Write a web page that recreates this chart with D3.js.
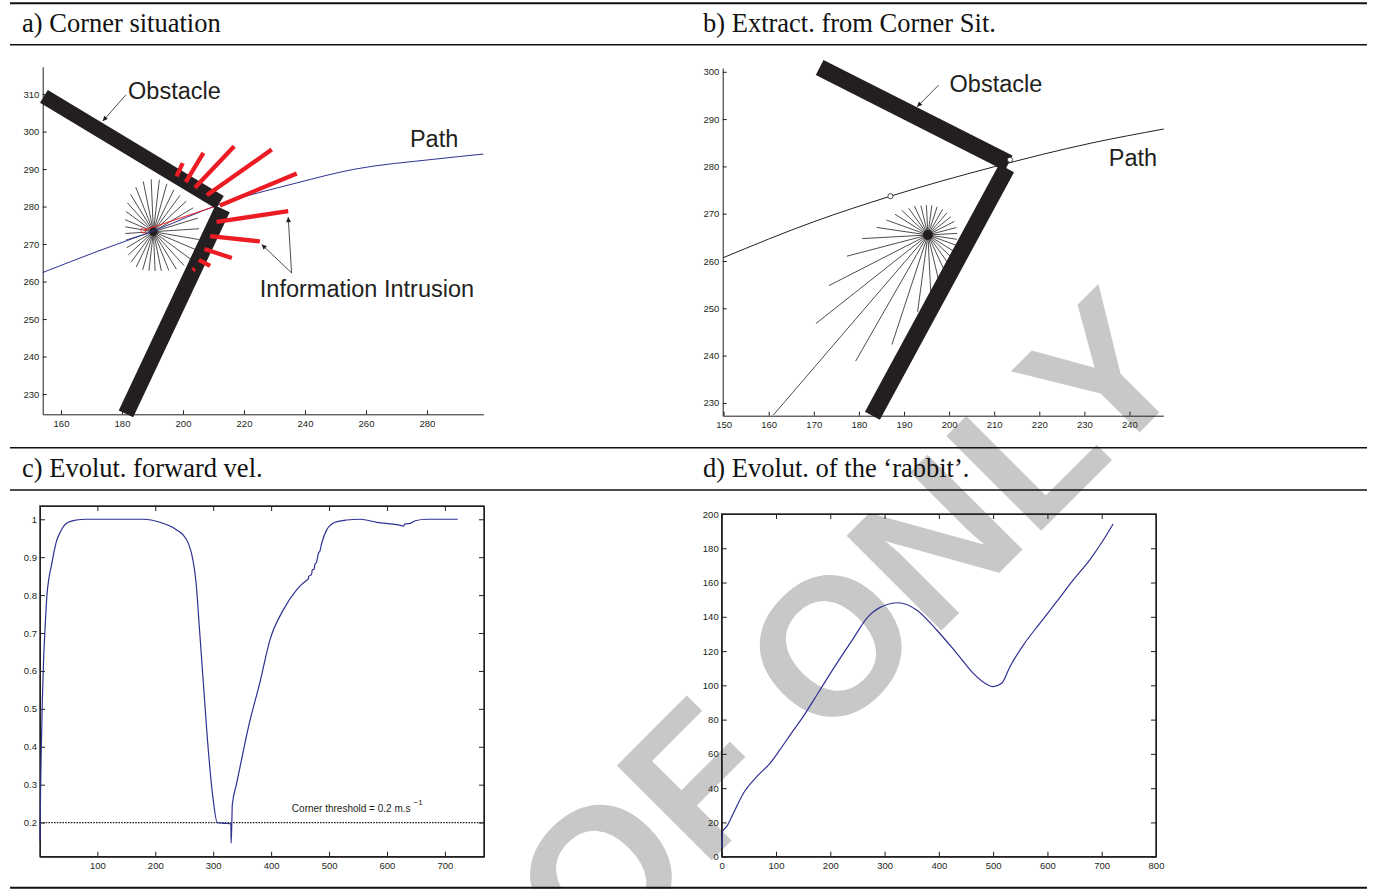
<!DOCTYPE html>
<html>
<head>
<meta charset="utf-8">
<script src="https://cdn.jsdelivr.net/npm/d3@7"></script>
<style>
  body { margin: 0; background: #fff; }
  svg { display: block; background: #fff; }
  .tick text { font-family: "Liberation Sans", Arial, sans-serif; font-size: 9.5px; fill: #231f20; }
  .tick line, .domain { stroke: #231f20; }
  .label { font-family: "Liberation Sans", Arial, sans-serif; fill: #231f20; }
  .head { font-family: "Liberation Serif", "Times New Roman", serif; font-size: 26.5px; fill: #111; }
</style>
</head>
<body>
<svg id="fig" width="1383" height="889"></svg>
<script>
// panel a - corner situation
const aXTicks = [160, 180, 200, 220, 240, 260, 280];
const aYTicks = [230, 240, 250, 260, 270, 280, 290, 300, 310];
const aPath = [[154, 262.4], [172.1, 268.1], [190.3, 273.5], [212.1, 280.6], [237.3, 286.3], [255.8, 289.9], [282.1, 292.6], [298.5, 294.0]];
const aWallUpper = [[154.4, 309.4], [212.1, 281.1]];
const aWallLower = [[212.95, 279.4], [181.3, 224.7]];
const aSensor = [190.3, 273.3];
const aRayLengths = [15, 15, 14.5, 13.5, 13, 13, 13.5, 14, 14, 13.8, 13.2, 12.5, 11.5, 10.5, 9.8, 9.3,
                     9.2, 9.3, 9.8, 10.3, 10.8, 11, 10.8, 10.5, 10.5, 10.8, 11.5, 12.5, 13.5, 14.5, 15, 15];
const aIntrusions = [
  [[197.9, 288.05], [199.9, 291.6]],
  [[200.9, 286.5], [206.7, 294.3]],
  [[203.9, 285.0], [216.8, 296.1]],
  [[207.8, 283.0], [229.1, 295.2]],
  [[212.1, 280.3], [237.3, 288.8]],
  [[211.0, 275.9], [234.5, 278.8]],
  [[208.9, 272.1], [225.2, 270.7]],
  [[207.0, 268.7], [216.0, 266.3]],
  [[205.2, 265.8], [208.9, 264.2]],
  [[203.2, 263.0], [203.9, 263.4]]
];
const aHeading = [[187, 273.65], [211.5, 280.3]];

// panel b - extract from the corner situation
const bXTicks = [150, 160, 170, 180, 190, 200, 210, 220, 230, 240];
const bYTicks = [230, 240, 250, 260, 270, 280, 290, 300];
const bPath = [[149.9, 260.7], [170.0, 268.3], [187.0, 273.7], [209.9, 279.9], [231.4, 284.9], [247.6, 287.9]];
const bWallUpper = [[171.3, 300.9], [213.2, 280.7]];
const bWallLower = [[212.75, 279.6], [183, 227.3]];
const bSensor = [195.3, 265.5];
const bRayLengths = [6.5, 6.5, 6.5, 6.4, 6.3, 6.3, 6.3, 6.3, 6.3, 6.4, 6.8, 7.1, 7.8, 8.5, 9.7, 11.5,
                     14.6, 18.5, 24.4, 31.1, 51.2, 31.1, 24.5, 16.4, 12, 11, 10, 9, 8, 7.2, 6.8, 6.5];
const bMarks = [[187, 273.7], [213.5, 281.4]];

// ray directions of the range sensor (degrees)
const rayAngles = [3, 14, 26, 37, 48, 59, 71, 82, 93, 104, 116, 127, 138, 149, 161, 172,
                   183, 194, 206, 217, 228, 239, 251, 262, 273, 284, 296, 307, 318, 329, 341, 352];

// panel c - forward velocity
const cXTicks = [100, 200, 300, 400, 500, 600, 700];
const cYTicks = [0.2, 0.3, 0.4, 0.5, 0.6, 0.7, 0.8, 0.9, 1];
const cTime = [1, 2, 3, 5, 7, 10, 13, 17, 21, 26, 30, 36, 42, 50, 64, 80, 180, 208, 237, 248, 257, 265, 270.5, 276, 283,
               292, 300, 307, 318, 329, 330.5, 331, 332, 333, 340, 346.5, 361, 381, 398, 421, 444, 462, 464, 465, 468,
               470, 471, 474, 476, 478, 480, 482, 484, 487, 496, 510.5, 530, 554, 582.5, 620, 628.5, 631, 634, 640,
               648.7, 669, 722];
const cVel = [0.15, 0.28, 0.38, 0.52, 0.62, 0.72, 0.8, 0.85, 0.88, 0.92, 0.945, 0.966, 0.982, 0.992, 0.998, 1.0, 1.0, 0.992,
              0.972, 0.959, 0.937, 0.893, 0.832, 0.717, 0.568, 0.383, 0.26, 0.2, 0.198, 0.197, 0.195, 0.146, 0.19, 0.247,
              0.3, 0.348, 0.453, 0.572, 0.682, 0.761, 0.814, 0.84, 0.842, 0.85, 0.852, 0.856, 0.866, 0.868, 0.883, 0.885,
              0.898, 0.912, 0.915, 0.935, 0.972, 0.992, 0.998, 1.0, 0.992, 0.985, 0.982, 0.988, 0.988, 0.989, 0.996, 1.0, 1.0];
const cThreshold = 0.2;

// panel d - evolution of the rabbit
const dXTicks = [0, 100, 200, 300, 400, 500, 600, 700, 800];
const dYTicks = [0, 20, 40, 60, 80, 100, 120, 140, 160, 180, 200];
const dTime = [0, 1, 2, 9, 21.5, 40, 64.5, 89, 107, 126, 150, 181, 212, 242.5, 267, 292, 325, 359, 396, 433, 463.5,
               485, 500, 515.7, 531, 555.6, 586, 617, 647.6, 678, 703, 721];
const dRabbit = [5, 12, 15, 17.5, 25.3, 37, 46.7, 54.5, 62.3, 71, 81.7, 97.3, 112.8, 127.4, 139.1, 145.5, 148.2, 144,
                 132.3, 118.7, 107, 101.2, 99.2, 101.2, 110.9, 123.5, 136.2, 148.8, 161.5, 173.2, 184.8, 194.2];

const INK = '#231f20', RED = '#ed1c24', BLUE = '#2e3192';
const svg = d3.select('#fig');

// watermark sits behind everything
svg.append('text')
   .attr('transform', 'translate(746,826) rotate(-45)')
   .attr('text-anchor', 'middle')
   .style('font-family', '"Liberation Sans", Arial, sans-serif')
   .style('font-weight', 'bold')
   .style('font-size', '195px')
   .style('fill', '#c8c8c8')
   .text('PROOF ONLY');

const defs = svg.append('defs');
defs.append('marker')
    .attr('id', 'arrow')
    .attr('viewBox', '0 0 10 10')
    .attr('refX', 10).attr('refY', 5)
    .attr('markerWidth', 7).attr('markerHeight', 5)
    .attr('markerUnits', 'userSpaceOnUse')
    .attr('orient', 'auto')
    .append('path').attr('d', 'M0,0 L10,5 L0,10 z').attr('fill', INK);

// table rules and headings
const rules = [[3.3, 2], [44.7, 1.5], [447.7, 1.5], [490, 1.5], [887.8, 2]];
rules.forEach(r => {
    svg.append('line').attr('x1', 10).attr('x2', 1367).attr('y1', r[0]).attr('y2', r[0])
       .attr('stroke', '#111').attr('stroke-width', r[1]);
});
svg.append('text').attr('class', 'head').attr('x', 22).attr('y', 32).text('a) Corner situation');
svg.append('text').attr('class', 'head').attr('x', 703).attr('y', 32).text('b) Extract. from Corner Sit.');
svg.append('text').attr('class', 'head').attr('x', 22).attr('y', 477).text('c) Evolut. forward vel.');
svg.append('text').attr('class', 'head').attr('x', 703).attr('y', 477).text('d) Evolut. of the \u2018rabbit\u2019.');

// open axes (left + bottom, ticks inside)
function openAxes(x, y, xt, yt) {
    svg.append('g').attr('transform', `translate(0,${y.range()[0]})`)
       .call(d3.axisBottom(x).tickValues(xt).tickSizeInner(-4).tickSizeOuter(0).tickPadding(5.7));
    svg.append('g').attr('transform', `translate(${x.range()[0]},0)`)
       .call(d3.axisLeft(y).tickValues(yt).tickSizeInner(-4).tickSizeOuter(0).tickPadding(3.4));
}

// boxed axes, matlab style
function boxAxes(x, y, xt, yt) {
    const x0 = x.range()[0], x1 = x.range()[1], y0 = y.range()[0], y1 = y.range()[1];
    svg.append('g').attr('transform', `translate(0,${y0})`)
       .call(d3.axisBottom(x).tickValues(xt).tickSizeInner(-5).tickSizeOuter(0).tickPadding(5.6).tickFormat(d => String(d)));
    svg.append('g').attr('transform', `translate(0,${y1})`)
       .call(d3.axisTop(x).tickValues(xt).tickSizeInner(-5).tickSizeOuter(0).tickFormat(''));
    svg.append('g').attr('transform', `translate(${x0},0)`)
       .call(d3.axisLeft(y).tickValues(yt).tickSizeInner(-5).tickSizeOuter(0).tickPadding(3).tickFormat(d => String(d)));
    svg.append('g').attr('transform', `translate(${x1},0)`)
       .call(d3.axisRight(y).tickValues(yt).tickSizeInner(-5).tickSizeOuter(0).tickFormat(''));
    svg.append('rect').attr('x', x0).attr('y', y1).attr('width', x1 - x0).attr('height', y0 - y1)
       .attr('fill', 'none').attr('stroke', INK).attr('stroke-width', 1.4);
}

function drawRays(x, y, centre, lengths, radius) {
    svg.append('g').selectAll('line')
       .data(rayAngles.map((a, i) => [a * Math.PI / 180, lengths[i]]))
       .join('line')
       .attr('x1', x(centre[0])).attr('y1', y(centre[1]))
       .attr('x2', d => x(centre[0] + d[1] * Math.cos(d[0])))
       .attr('y2', d => y(centre[1] + d[1] * Math.sin(d[0])))
       .attr('stroke', INK).attr('stroke-width', 0.8);
    svg.append('circle').attr('cx', x(centre[0])).attr('cy', y(centre[1])).attr('r', radius).attr('fill', INK);
}

function drawWall(x, y, seg, w) {
    svg.append('line')
       .attr('x1', x(seg[0][0])).attr('y1', y(seg[0][1]))
       .attr('x2', x(seg[1][0])).attr('y2', y(seg[1][1]))
       .attr('stroke', INK).attr('stroke-width', w);
}

function arrow(x, y, from, to) {
    svg.append('line')
       .attr('x1', x(from[0])).attr('y1', y(from[1]))
       .attr('x2', x(to[0])).attr('y2', y(to[1]))
       .attr('stroke', INK).attr('stroke-width', 0.8)
       .attr('marker-end', 'url(#arrow)');
}

function label(x, y, pos, txt) {
    svg.append('text').attr('class', 'label')
       .attr('x', x(pos[0])).attr('y', y(pos[1]))
       .style('font-size', '23.5px').text(txt);
}

// ---------- panel a ----------
const xA = d3.scaleLinear().domain([154, 298.5]).range([42.7, 483.4]);
const yA = d3.scaleLinear().domain([224.6, 317.3]).range([414.3, 66.7]);
openAxes(xA, yA, aXTicks, aYTicks);

drawRays(xA, yA, aSensor, aRayLengths, 4);

svg.append('path').datum(aPath)
   .attr('fill', 'none').attr('stroke', BLUE).attr('stroke-width', 1)
   .attr('d', d3.line().x(d => xA(d[0])).y(d => yA(d[1])).curve(d3.curveMonotoneX));

svg.append('line')
   .attr('x1', xA(aHeading[0][0])).attr('y1', yA(aHeading[0][1]))
   .attr('x2', xA(aHeading[1][0])).attr('y2', yA(aHeading[1][1]))
   .attr('stroke', RED).attr('stroke-width', 1);
svg.append('circle').attr('cx', xA(aHeading[0][0])).attr('cy', yA(aHeading[0][1])).attr('r', 2.5)
   .attr('fill', 'none').attr('stroke', RED).attr('stroke-width', 0.8);

drawWall(xA, yA, aWallUpper, 15);
drawWall(xA, yA, aWallLower, 16);

svg.append('g').selectAll('line').data(aIntrusions).join('line')
   .attr('x1', d => xA(d[0][0])).attr('y1', d => yA(d[0][1]))
   .attr('x2', d => xA(d[1][0])).attr('y2', d => yA(d[1][1]))
   .attr('stroke', RED).attr('stroke-width', 4.3);

label(xA, yA, [182, 308.7], 'Obstacle');
arrow(xA, yA, [181.3, 309.8], [173.7, 302.8]);
label(xA, yA, [274.4, 296], 'Path');
label(xA, yA, [225.2, 256], 'Information Intrusion');
arrow(xA, yA, [235.6, 262.3], [234.5, 277.2]);
arrow(xA, yA, [235.6, 262.3], [225.8, 269.9]);

// ---------- panel b ----------
const xB = d3.scaleLinear().domain([149.8, 247.5]).range([722.7, 1163.3]);
const yB = d3.scaleLinear().domain([227.3, 300.8]).range([415.7, 68]);
openAxes(xB, yB, bXTicks, bYTicks);

drawRays(xB, yB, bSensor, bRayLengths, 5);

svg.append('path').datum(bPath)
   .attr('fill', 'none').attr('stroke', INK).attr('stroke-width', 1)
   .attr('d', d3.line().x(d => xB(d[0])).y(d => yB(d[1])).curve(d3.curveMonotoneX));

drawWall(xB, yB, bWallUpper, 17);
drawWall(xB, yB, bWallLower, 17);

svg.append('g').selectAll('circle').data(bMarks).join('circle')
   .attr('cx', d => xB(d[0])).attr('cy', d => yB(d[1])).attr('r', 2.6)
   .attr('fill', '#fff').attr('stroke', INK).attr('stroke-width', 0.8);

label(xB, yB, [200.1, 295.7], 'Obstacle');
arrow(xB, yB, [197.7, 297.2], [192.9, 292.6]);
label(xB, yB, [235.4, 280.1], 'Path');

// ---------- panel c ----------
const xC = d3.scaleLinear().domain([1, 767.5]).range([40, 484]);
const yC = d3.scaleLinear().domain([0.11, 1.035]).range([856.7, 506]);
boxAxes(xC, yC, cXTicks, cYTicks);

svg.append('line')
   .attr('x1', xC.range()[0]).attr('x2', xC.range()[1])
   .attr('y1', yC(cThreshold)).attr('y2', yC(cThreshold))
   .attr('stroke', INK).attr('stroke-width', 1.4).attr('stroke-dasharray', '1.6,1.2');

svg.append('path').datum(cTime.map((t, i) => [t, cVel[i]]))
   .attr('fill', 'none').attr('stroke', BLUE).attr('stroke-width', 1.2)
   .attr('d', d3.line().x(d => xC(d[0])).y(d => yC(d[1])).curve(d3.curveMonotoneX));

const thr = svg.append('text').attr('class', 'label')
   .attr('x', xC(435.8)).attr('y', yC(0.229)).style('font-size', '10px');
thr.append('tspan').text('Corner threshold = 0.2 m.s');
thr.append('tspan').attr('dx', 3).attr('dy', -7).style('font-size', '8px').text('\u22121');

// ---------- panel d ----------
const xD = d3.scaleLinear().domain([0, 800]).range([721.7, 1156]);
const yD = d3.scaleLinear().domain([0, 200]).range([856.7, 514]);
boxAxes(xD, yD, dXTicks, dYTicks);

svg.append('path').datum(dTime.map((t, i) => [t, dRabbit[i]]))
   .attr('fill', 'none').attr('stroke', BLUE).attr('stroke-width', 1.2)
   .attr('d', d3.line().x(d => xD(d[0])).y(d => yD(d[1])).curve(d3.curveMonotoneX));
</script>
</body>
</html>
